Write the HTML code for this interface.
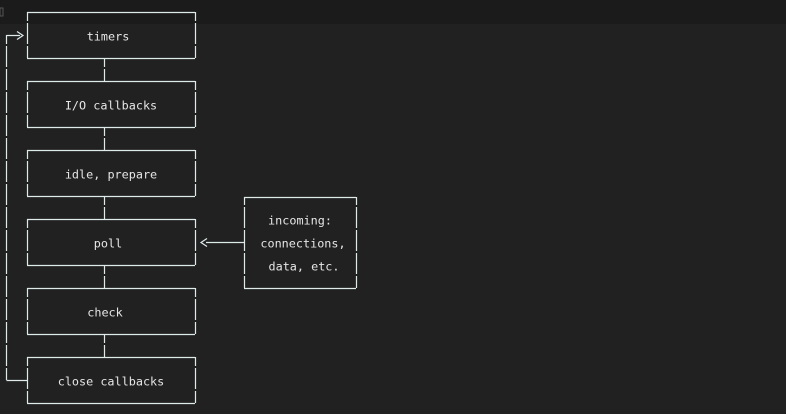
<!DOCTYPE html>
<html><head><meta charset="utf-8"><style>
html,body{margin:0;padding:0;background:#212121;}
svg{display:block}
text{font-family:"DejaVu Sans Mono","Liberation Mono",monospace;font-size:11.8px;fill:#e6e6e6;text-anchor:middle;dominant-baseline:middle}
</style></head><body>
<svg width="786" height="414" viewBox="0 0 786 414">
<defs>
<pattern id="p" width="786" height="23" patternUnits="userSpaceOnUse">
<rect width="786" height="23" fill="#fff"/>
<rect y="21" width="786" height="4" fill="#000"/>
</pattern>
<mask id="m"><rect width="786" height="414" fill="url(#p)"/></mask>
</defs>
<rect width="786" height="24" fill="#1b1b1b"/>
<rect x="0" y="8" width="3" height="8" fill="none" stroke="#555" stroke-width="1"/>
<g stroke="#dfeaea" stroke-width="1.2" fill="none">
<path d="M27 12.5H195M27 58.5H195M27 81.5H195M27 127.5H195M27 150.5H195M27 196.5H195M27 219.5H195M27 265.5H195M27 288.5H195M27 334.5H195M27 357.5H195M27 403.5H195"/>
<path d="M244 197.5H356M244 288.5H356"/>
<path d="M6.5 35.5H20M17 31.5L23 35.5L17 39.5"/>
<path d="M6.5 380.5H27"/>
<path d="M206 242.5H244M207 238.5L201 242.5L207 246.5"/>
<g mask="url(#m)">
<path d="M27.5 12V58M195.5 12V58M27.5 81V127M195.5 81V127M27.5 150V196M195.5 150V196M27.5 219V265M195.5 219V265M27.5 288V334M195.5 288V334M27.5 357V403M195.5 357V403"/>
<path d="M104.5 58V81M104.5 127V150M104.5 196V219M104.5 265V288M104.5 334V357"/>
<path d="M244.5 197V288M356.5 197V288"/>
<path d="M6.5 35V380"/>
</g>
</g>
<text x="108" y="37">timers</text>
<text x="111" y="106">I/O callbacks</text>
<text x="111" y="175">idle, prepare</text>
<text x="108" y="244">poll</text>
<text x="105" y="313">check</text>
<text x="111" y="382">close callbacks</text>
<text x="300" y="221">incoming:</text>
<text x="303" y="244">connections,</text>
<text x="304" y="267">data, etc.</text>
</svg>
</body></html>
